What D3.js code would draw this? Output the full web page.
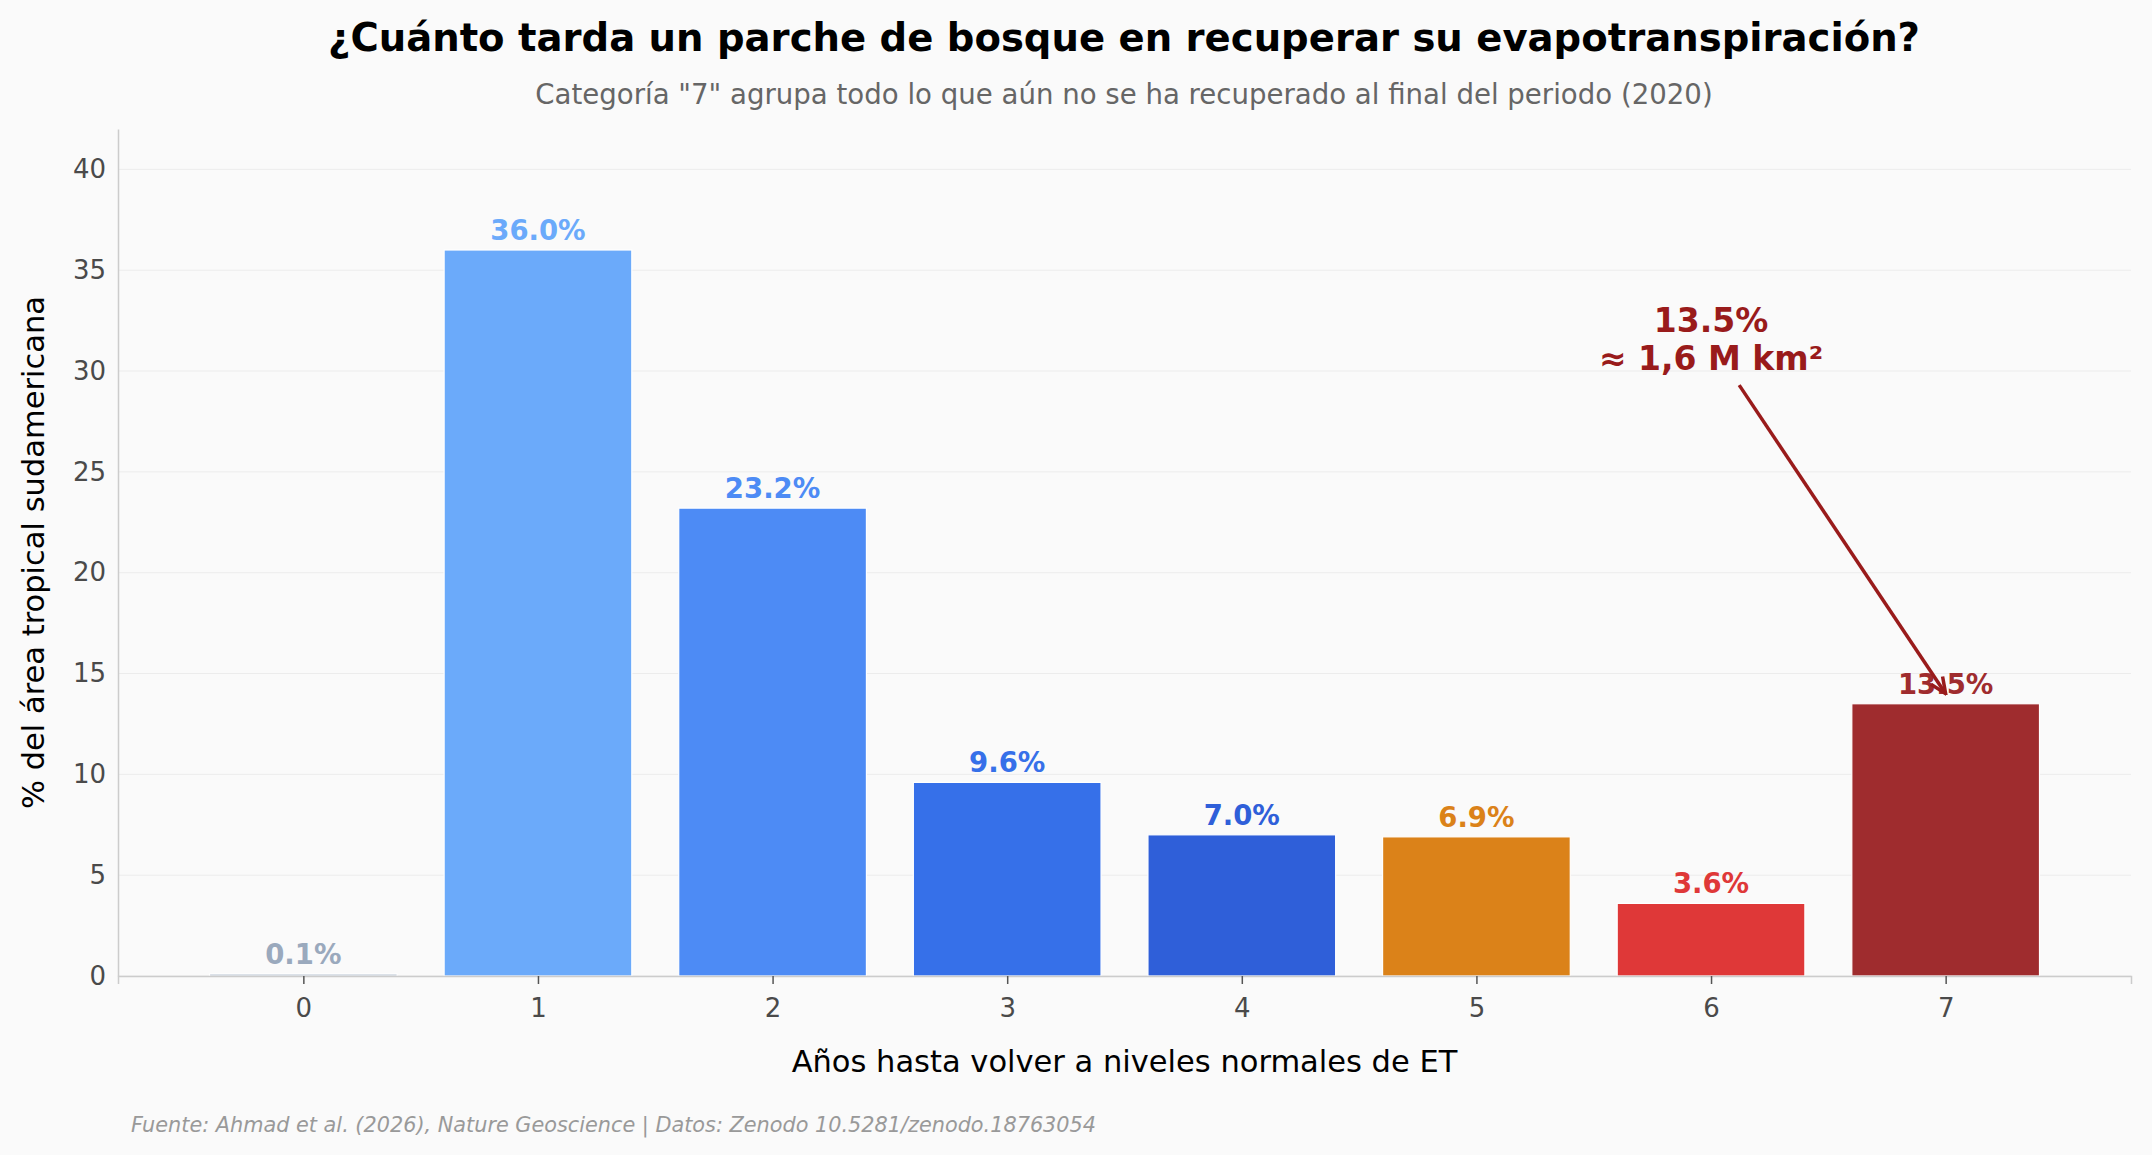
<!DOCTYPE html>
<html>
<head>
<meta charset="utf-8">
<script src="https://cdn.jsdelivr.net/npm/d3@7"></script>
<style>
  body { margin: 0; background: #fafafa; }
  svg { display: block; font-family: "DejaVu Sans", sans-serif; }
</style>
</head>
<body>
<div id="chart"></div>
<script>
const years = [0, 1, 2, 3, 4, 5, 6, 7];
const shares = [0.1, 36.0, 23.2, 9.6, 7.0, 6.9, 3.6, 13.5];
const barColors = ["#a9b6c8", "#6baafa", "#4d8bf5", "#3670e9", "#2f5fd9", "#db8219", "#df3838", "#9f2c2e"];
const labelColors = ["#9aa9bd", "#6baafa", "#4d8bf5", "#3670e9", "#2f5fd9", "#db8219", "#df3838", "#9f2c2e"];
const yTicks = [0, 5, 10, 15, 20, 25, 30, 35, 40];

const width = 2152, height = 1155;
const margin = { top: 129, right: 21, bottom: 179, left: 118 };
const innerW = width - margin.left - margin.right;
const innerH = height - margin.top - margin.bottom;

const svg = d3.select("#chart")
    .append("svg")
    .attr("width", width)
    .attr("height", height);

svg.append("rect")
    .attr("width", width)
    .attr("height", height)
    .attr("fill", "#fafafa");

const g = svg.append("g")
    .attr("transform", `translate(${margin.left},${margin.top})`);

const x = d3.scaleLinear()
    .domain([-0.79, 7.79])
    .range([0, innerW]);

const y = d3.scaleLinear()
    .domain([0, 42])
    .range([innerH, 0]);

const barW = x(0.8) - x(0);

// grid
g.selectAll(".grid")
    .data(yTicks)
    .enter().append("line")
    .attr("x1", 0)
    .attr("x2", innerW)
    .attr("y1", d => y(d))
    .attr("y2", d => y(d))
    .attr("stroke", "#ececec")
    .attr("stroke-width", 1);

// bars
g.selectAll(".bar")
    .data(years)
    .enter().append("rect")
    .attr("x", (d, i) => x(d) - barW / 2)
    .attr("width", barW)
    .attr("y", (d, i) => y(shares[i]))
    .attr("height", (d, i) => y(0) - y(shares[i]))
    .attr("fill", (d, i) => barColors[i])
    .attr("stroke", "#ffffff")
    .attr("stroke-width", 1.2);

// value labels
g.selectAll(".val")
    .data(years)
    .enter().append("text")
    .attr("x", d => x(d))
    .attr("y", (d, i) => y(shares[i]) - 10)
    .attr("text-anchor", "middle")
    .style("font-size", "27.5px")
    .style("font-weight", "bold")
    .style("fill", (d, i) => labelColors[i])
    .text((d, i) => shares[i].toFixed(1) + "%");

// axes
const xAxis = g.append("g")
    .attr("transform", `translate(0,${innerH})`)
    .call(d3.axisBottom(x).tickValues(years).tickFormat(d3.format("d")).tickSize(8).tickPadding(15));
xAxis.select(".domain").attr("stroke", "#cccccc").attr("stroke-width", 1.5);
xAxis.selectAll(".tick line").attr("stroke", "#555555").attr("stroke-width", 1.5);
xAxis.selectAll("text").style("font-size", "26px").style("fill", "#4a4a4a")
    .style("font-family", "DejaVu Sans");

const yAxis = g.append("g")
    .call(d3.axisLeft(y).tickValues(yTicks).tickSize(0).tickPadding(12));
yAxis.select(".domain").attr("stroke", "#cccccc").attr("stroke-width", 1.5);
yAxis.selectAll("text").style("font-size", "26px").style("fill", "#4a4a4a")
    .style("font-family", "DejaVu Sans");

// annotation
const annotColor = "#991b1b";
svg.append("defs").append("marker")
    .attr("id", "arrow")
    .attr("viewBox", "0 0 20 20")
    .attr("refX", 18)
    .attr("refY", 10)
    .attr("markerWidth", 20)
    .attr("markerHeight", 20)
    .attr("markerUnits", "userSpaceOnUse")
    .attr("orient", "auto")
    .append("path")
    .attr("d", "M2,3 L18,10 L2,17")
    .attr("fill", "none")
    .attr("stroke", annotColor)
    .attr("stroke-width", 3.5);

const annot = g.append("text")
    .attr("x", x(6))
    .attr("text-anchor", "middle")
    .style("font-size", "33px")
    .style("font-weight", "bold")
    .style("fill", annotColor);
annot.append("tspan").attr("x", x(6)).attr("y", y(31) - 19).text("13.5%");
annot.append("tspan").attr("x", x(6)).attr("y", y(31) + 19).text("≈ 1,6 M km²");

g.append("line")
    .attr("x1", x(6.12))
    .attr("y1", y(29.3))
    .attr("x2", x(7))
    .attr("y2", y(14))
    .attr("stroke", annotColor)
    .attr("stroke-width", 3.5)
    .attr("marker-end", "url(#arrow)");

// titles
svg.append("text")
    .attr("x", 1124)
    .attr("y", 51)
    .attr("text-anchor", "middle")
    .style("font-size", "38.6px")
    .style("font-weight", "bold")
    .style("fill", "#000000")
    .text("¿Cuánto tarda un parche de bosque en recuperar su evapotranspiración?");

svg.append("text")
    .attr("x", 1124)
    .attr("y", 104)
    .attr("text-anchor", "middle")
    .style("font-size", "27.6px")
    .style("fill", "#666666")
    .text("Categoría \"7\" agrupa todo lo que aún no se ha recuperado al final del periodo (2020)");

svg.append("text")
    .attr("transform", `translate(44, ${margin.top + innerH / 2}) rotate(-90)`)
    .attr("text-anchor", "middle")
    .style("font-size", "30.5px")
    .style("fill", "#000000")
    .text("% del área tropical sudamericana");

svg.append("text")
    .attr("x", margin.left + innerW / 2)
    .attr("y", 1072)
    .attr("text-anchor", "middle")
    .style("font-size", "30.5px")
    .style("fill", "#000000")
    .text("Años hasta volver a niveles normales de ET");

svg.append("text")
    .attr("x", 131)
    .attr("y", 1132)
    .style("font-size", "20.8px")
    .style("font-style", "italic")
    .style("fill", "#999999")
    .text("Fuente: Ahmad et al. (2026), Nature Geoscience | Datos: Zenodo 10.5281/zenodo.18763054");
</script>
</body>
</html>
